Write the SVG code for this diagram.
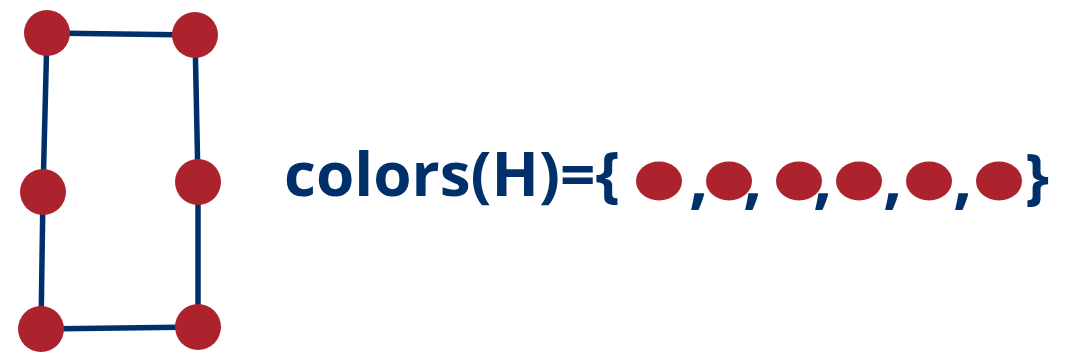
<svg xmlns="http://www.w3.org/2000/svg" width="1076" height="361" viewBox="0 0 1076 361">
<style>
.edge{stroke:#00306A;stroke-width:5.5;fill:none}
.node{fill:#AD232D}
.t{font-family:"Open Sans","Liberation Sans",sans-serif;font-weight:bold;fill:#00306A;font-size:61px}
.c{font-family:"Open Sans","Liberation Sans",sans-serif;font-weight:bold;fill:#00306A;font-size:68px}
</style>
<rect width="1076" height="361" fill="#fff"/>
<g id="connectors">
<line class="edge" x1="47" y1="33" x2="195" y2="35"/>
<line class="edge" x1="47" y1="33" x2="43" y2="192"/>
<line class="edge" x1="43" y1="192" x2="41" y2="329"/>
<line class="edge" x1="41" y1="329" x2="198" y2="327"/>
<line class="edge" x1="198" y1="327" x2="198" y2="182"/>
<line class="edge" x1="198" y1="182" x2="195" y2="35"/>
</g>
<g id="n1"><circle class="node" cx="47" cy="33" r="23"/></g>
<g id="n2"><circle class="node" cx="195" cy="35" r="23"/></g>
<g id="n3"><circle class="node" cx="43" cy="192" r="23"/></g>
<g id="n4"><circle class="node" cx="198" cy="182" r="23"/></g>
<g id="n5"><circle class="node" cx="41" cy="329" r="23"/></g>
<g id="n6"><circle class="node" cx="198" cy="327" r="23"/></g>
<g id="label">
<text class="t" x="284" y="196" textLength="336" lengthAdjust="spacingAndGlyphs">colors(H)={</text>
<ellipse class="node" cx="659" cy="181" rx="23" ry="19.5"/>
<ellipse class="node" cx="729" cy="181" rx="23" ry="19.5"/>
<ellipse class="node" cx="799" cy="181" rx="23" ry="19.5"/>
<ellipse class="node" cx="859" cy="181" rx="23" ry="19.5"/>
<ellipse class="node" cx="929" cy="181" rx="23" ry="19.5"/>
<ellipse class="node" cx="999" cy="181" rx="23" ry="19.5"/>
<text class="c" x="689" y="201">,</text>
<text class="c" x="743" y="201">,</text>
<text class="c" x="813" y="201">,</text>
<text class="c" x="883" y="201">,</text>
<text class="c" x="953" y="201">,</text>
<text class="t" x="1025" y="198">}</text>
</g>
</svg>
